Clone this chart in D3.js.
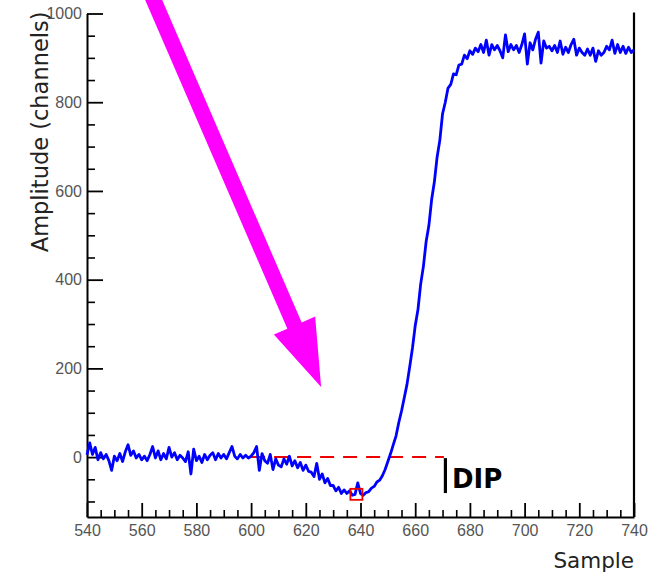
<!DOCTYPE html>
<html>
<head>
<meta charset="utf-8">
<script src="https://cdn.jsdelivr.net/npm/d3@7"></script>
<style>
  body { margin: 0; background: #fff; }
  .axis path, .axis line { stroke: #000; }
</style>
</head>
<body>
<svg id="chart" width="658" height="577"></svg>
<script>
// samples run 540..740, one amplitude per sample
const firstSample = 540;
const amplitude = [
  5, 32, 6, 22, -6, 10, -4, 6, -8, -30,
  2, -8, 8, -10, 12, 28, 4, 14, -2, 6,
  -6, 2, -8, 6, 24, -2, 14, -6, 8, -4,
  22, 0, 10, -6, 4, -2, -10, 12, -38, 18,
  -8, 2, -12, 6, -6, 4, 10, -6, 8, -2,
  6, -4, 10, 24, 2, -4, 6, -2, 4, -2,
  2, 10, 24, -30, 8, -8, -14, 6, -28, -4,
  -18, -22, -4, -16, 2, -20, -8, -24, -12, -30,
  -18, -32, -34, -44, -14, -50, -38, -58, -48, -64,
  -64, -76, -68, -82, -74, -82, -76, -86, -84, -58,
  -82, -86, -80, -78, -70, -66, -56, -52, -42, -28,
  -10, 8, 28, 48, 78, 104, 134, 164, 204, 246,
  296, 332, 390, 430, 486, 522, 580, 620, 676, 714,
  774, 800, 832, 840, 864, 862, 884, 886, 906, 898,
  916, 908, 922, 914, 930, 912, 940, 906, 930, 918,
  928, 916, 900, 952, 914, 930, 918, 928, 912, 930,
  954, 886, 934, 918, 942, 958, 888, 938, 922, 926,
  916, 928, 912, 938, 908, 924, 912, 930, 942, 906,
  922, 912, 906, 920, 906, 922, 892, 916, 906, 912,
  926, 918, 940, 910, 930, 912, 926, 910, 924, 912,
  918
];

const xTicks = [540, 560, 580, 600, 620, 640, 660, 680, 700, 720, 740];
const yTicks = [0, 200, 400, 600, 800, 1000];

// annotation: baseline, dip marker, arrow
const dipBaseline = 0;
const dipFrom = 600;
const dipTo = 670.5;
const dipMin = { sample: 638.5, value: -85 };
const arrowTail = { sample: 562.3, value: 1060 };
const arrowTip = { sample: 625.6, value: 158 };

const svg = d3.select("#chart");

const x = d3.scaleLinear().domain([540, 740]).range([87, 634]);
const y = d3.scaleLinear().domain([-135, 1000]).range([517, 13.5]);

const styleLabels = g => g.selectAll("text")
    .attr("font-family", "'Liberation Sans', Arial, sans-serif")
    .attr("font-size", 16)
    .attr("fill", "#555");

// minor ticks
svg.append("g")
    .attr("class", "axis")
    .attr("transform", "translate(0,517)")
    .call(d3.axisBottom(x)
        .tickValues(d3.range(540, 741, 5).filter(v => v % 20 !== 0))
        .tickSizeInner(-7).tickSizeOuter(0).tickFormat(""))
    .call(g => g.select(".domain").remove())
    .selectAll("line").attr("stroke-width", 1.6);

svg.append("g")
    .attr("class", "axis")
    .attr("transform", "translate(87,0)")
    .call(d3.axisLeft(y)
        .tickValues(d3.range(-100, 1001, 50).filter(v => v % 200 !== 0))
        .tickSizeInner(-8).tickSizeOuter(0).tickFormat(""))
    .call(g => g.select(".domain").remove())
    .selectAll("line").attr("stroke-width", 1.6);

// major ticks + labels
const xAxis = d3.axisBottom(x).tickValues(xTicks).tickSizeInner(-14).tickSizeOuter(0).tickPadding(8).tickFormat(d3.format("d"));
svg.append("g")
    .attr("class", "axis")
    .attr("transform", "translate(0,517)")
    .call(xAxis)
    .call(styleLabels)
    .call(g => g.select(".domain").attr("stroke-width", 2))
    .selectAll("line").attr("stroke-width", 1.8);

const yAxis = d3.axisLeft(y).tickValues(yTicks).tickSizeInner(-16).tickSizeOuter(0).tickPadding(5).tickFormat(d3.format("d"));
svg.append("g")
    .attr("class", "axis")
    .attr("transform", "translate(87,0)")
    .call(yAxis)
    .call(styleLabels)
    .call(g => g.select(".domain").attr("stroke-width", 2))
    .selectAll("line").attr("stroke-width", 1.8);

// right frame
svg.append("line")
    .attr("x1", x(740)).attr("x2", x(740))
    .attr("y1", y(1000) - 1).attr("y2", y(-135))
    .attr("stroke", "#000").attr("stroke-width", 2.2);

// axis titles
svg.append("text")
    .attr("transform", `translate(48,${y(1000) - 2}) rotate(-90)`)
    .attr("text-anchor", "end")
    .style("font-family", "'DejaVu Sans', sans-serif")
    .style("font-size", "22.5px")
    .attr("fill", "#222")
    .text("Amplitude (channels)");

svg.append("text")
    .attr("x", 634).attr("y", 568)
    .attr("text-anchor", "end")
    .style("font-family", "'DejaVu Sans', sans-serif")
    .style("font-size", "21.5px")
    .attr("fill", "#222")
    .text("Sample");

// dashed baseline
svg.append("line")
    .attr("x1", x(dipFrom)).attr("x2", x(dipTo))
    .attr("y1", y(dipBaseline)).attr("y2", y(dipBaseline))
    .attr("stroke", "#ee0000").attr("stroke-width", 2)
    .attr("stroke-dasharray", "14,9");

// the trace
const line = d3.line()
    .x((_, i) => x(firstSample + i))
    .y(d => y(d));

svg.append("path")
    .datum(amplitude)
    .attr("fill", "none")
    .attr("stroke", "#0000ff")
    .attr("stroke-width", 2.8)
    .attr("stroke-linejoin", "round")
    .attr("d", line);

// min marker
svg.append("rect")
    .attr("x", x(dipMin.sample) - 6).attr("y", y(dipMin.value) - 6)
    .attr("width", 12).attr("height", 11)
    .attr("fill", "none").attr("stroke", "#ee0000").attr("stroke-width", 1.8);

// DIP bar + label
svg.append("line")
    .attr("x1", x(dipTo) + 1.5).attr("x2", x(dipTo) + 1.5)
    .attr("y1", y(dipBaseline) + 1).attr("y2", y(-81))
    .attr("stroke", "#000").attr("stroke-width", 3.2);

svg.append("text")
    .attr("x", x(dipTo) + 8).attr("y", 488)
    .style("font-family", "'DejaVu Sans', sans-serif")
    .style("font-size", "26px")
    .style("font-weight", "bold")
    .attr("fill", "#000")
    .text("DIP");

// magenta arrow
const tx = x(arrowTail.sample), ty = y(arrowTail.value);
const px = x(arrowTip.sample), py = y(arrowTip.value);
const len = Math.hypot(px - tx, py - ty);
const ux = (px - tx) / len, uy = (py - ty) / len;
const nx = -uy, ny = ux;
const headLen = 67, headW = 22.5, shaftW = 7.8;
const bx = px - ux * headLen, by = py - uy * headLen;
const pts = [
    [tx + nx * shaftW, ty + ny * shaftW],
    [bx + nx * shaftW, by + ny * shaftW],
    [bx + nx * headW, by + ny * headW],
    [px, py],
    [bx - nx * headW, by - ny * headW],
    [bx - nx * shaftW, by - ny * shaftW],
    [tx - nx * shaftW, ty - ny * shaftW]
];
svg.append("path")
    .attr("d", "M" + pts.map(p => p.join(",")).join("L") + "Z")
    .attr("fill", "#ff00ff");
</script>
</body>
</html>
